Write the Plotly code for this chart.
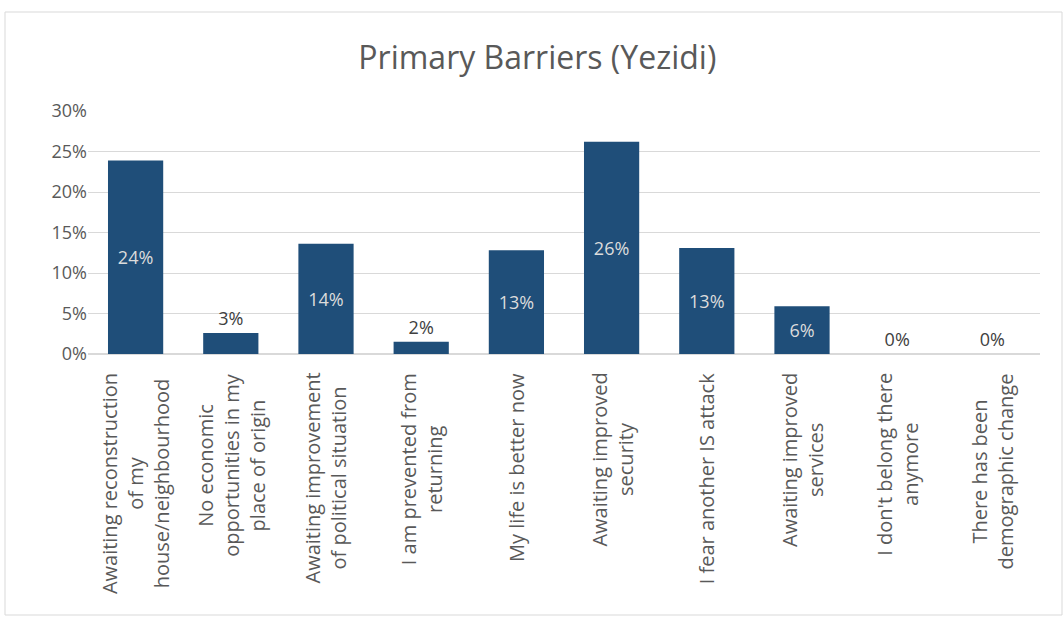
import plotly.graph_objects as go

categories = [
    "Awaiting reconstruction<br>of my<br>house/neighbourhood",
    "No economic<br>opportunities in my<br>place of origin",
    "Awaiting improvement<br>of political situation",
    "I am prevented from<br>returning",
    "My life is better now",
    "Awaiting improved<br>security",
    "I fear another IS attack",
    "Awaiting improved<br>services",
    "I don't belong there<br>anymore",
    "There has been<br>demographic change",
]
values = [0.239, 0.026, 0.136, 0.015, 0.128, 0.262, 0.131, 0.059, 0.0, 0.0]
y_ticks = [0, 0.05, 0.10, 0.15, 0.20, 0.25, 0.30]
y_tick_labels = ["0%", "5%", "10%", "15%", "20%", "25%", "30%"]

positions = ["inside" if v > 0.04 else "outside" for v in values]
text_colors = ["#dcdcdc" if p == "inside" else "#404040" for p in positions]

fig = go.Figure()
fig.add_trace(go.Bar(
    x=categories,
    y=values,
    marker=dict(color="#1f4e79", line=dict(width=0)),
    width=0.58,
    text=[f"{round(v*100):.0f}%" for v in values],
    textposition=positions,
    insidetextanchor="middle",
    textfont=dict(family="Open Sans", size=18, color=text_colors),
    cliponaxis=False,
))

# category labels: rotated, with centred lines (as in the original)
label_annotations = [
    dict(
        x=c, xref="x", y=-0.07, yref="paper",
        text=c, textangle=-90, showarrow=False,
        xanchor="center", yanchor="top", align="center",
        font=dict(family="Open Sans", size=20, color="#595959"),
    )
    for c in categories
]

fig.update_layout(
    width=1064, height=617,
    margin=dict(l=88, r=24, t=111, b=263),
    paper_bgcolor="white",
    plot_bgcolor="white",
    showlegend=False,
    title=dict(
        text="Primary Barriers (Yezidi)",
        x=0.505, xanchor="center",
        y=1 - 58 / 617, yanchor="middle",
        font=dict(family="Open Sans", size=32, color="#595959"),
    ),
    xaxis=dict(
        showticklabels=False,
        showgrid=False,
        showline=True, linecolor="#d9d9d9", linewidth=1,
        ticks="",
    ),
    yaxis=dict(
        range=[0, 0.30],
        tickvals=y_ticks,
        ticktext=y_tick_labels,
        tickfont=dict(family="Open Sans", size=18, color="#595959"),
        showgrid=True, gridcolor="#d9d9d9", gridwidth=1,
        zeroline=True, zerolinecolor="#d9d9d9",
        showline=False,
        ticks="",
    ),
    bargap=0.42,
    annotations=label_annotations,
    shapes=[dict(
        type="rect", xref="paper", yref="paper",
        x0=(5 - 88) / 952, x1=(1062 - 88) / 952,
        y0=(354 - 615) / 243, y1=(354 - 12) / 243,
        line=dict(color="#d9d9d9", width=1), fillcolor="rgba(0,0,0,0)",
        layer="below",
    )],
)

fig.write_html("out.html")
